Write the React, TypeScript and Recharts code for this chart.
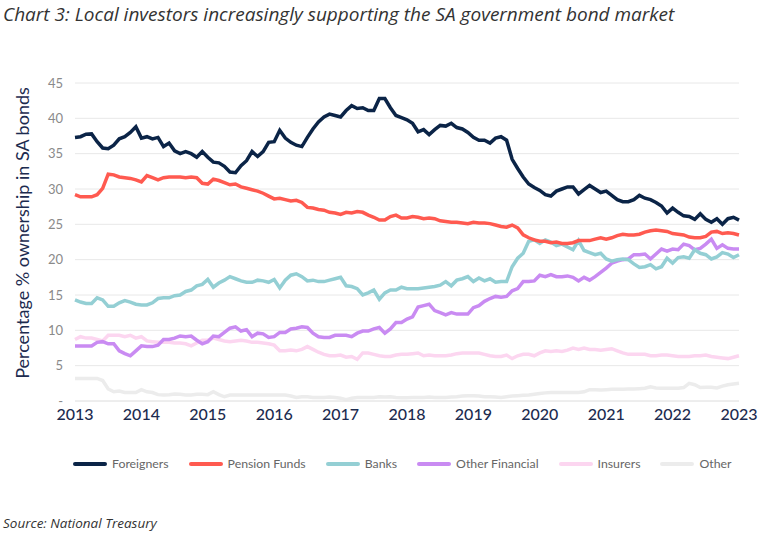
import { LineChart, Line, XAxis, YAxis, CartesianGrid } from "recharts";

// monthly observations, Jan 2013 .. Jan 2023 (121 points)
const startYear = 2013;
const yearTicks = [2013, 2014, 2015, 2016, 2017, 2018, 2019, 2020, 2021, 2022, 2023];
const pctTicks = [0, 5, 10, 15, 20, 25, 30, 35, 40, 45];

const foreigners = [
  37.3, 37.4, 37.75, 37.8, 36.7, 35.8, 35.7, 36.2, 37.1, 37.4,
  38.0, 38.8, 37.2, 37.4, 37.1, 37.3, 36.0, 36.5, 35.4, 35.0,
  35.3, 35.0, 34.5, 35.3, 34.5, 33.8, 33.7, 33.2, 32.4, 32.3,
  33.3, 34.0, 35.3, 34.6, 35.3, 36.6, 36.7, 38.3, 37.2, 36.6,
  36.2, 36.0, 37.3, 38.5, 39.5, 40.2, 40.6, 40.4, 40.2, 41.1,
  41.8, 41.4, 41.5, 41.1, 41.1, 42.8, 42.8, 41.5, 40.4, 40.1,
  39.8, 39.3, 38.1, 38.4, 37.7, 38.4, 39.0, 38.9, 39.3, 38.7,
  38.5, 38.0, 37.3, 36.9, 36.9, 36.5, 37.2, 37.4, 36.9, 34.2,
  32.9, 31.7, 30.7, 30.2, 29.8, 29.2, 29.0, 29.7, 30.0, 30.3,
  30.3, 29.3, 29.9, 30.5, 30.0, 29.5, 29.7, 29.1, 28.5, 28.2,
  28.2, 28.5, 29.1, 28.7, 28.5, 28.1, 27.6, 26.6, 27.3, 26.7,
  26.2, 26.1, 25.7, 26.5, 25.7, 25.3, 25.8, 25.0, 25.8, 26.0,
  25.6,
];

const pensionFunds = [
  29.2, 28.9, 28.9, 28.9, 29.2, 30.1, 32.1, 32.0, 31.7, 31.6,
  31.5, 31.3, 31.0, 31.9, 31.6, 31.3, 31.6, 31.7, 31.7, 31.7,
  31.6, 31.7, 31.6, 30.8, 30.7, 31.4, 31.2, 30.9, 30.6, 30.7,
  30.3, 30.1, 29.9, 29.7, 29.4, 29.0, 28.6, 28.7, 28.5, 28.3,
  28.4, 28.1, 27.4, 27.3, 27.1, 27.0, 26.7, 26.6, 26.4, 26.7,
  26.6, 26.8, 26.7, 26.3, 26.0, 25.6, 25.6, 26.1, 26.3, 25.9,
  25.9, 26.1, 26.0, 25.8, 25.9, 25.8, 25.5, 25.4, 25.3, 25.3,
  25.2, 25.1, 25.3, 25.2, 25.2, 25.1, 24.9, 24.7, 24.6, 24.9,
  24.5, 23.5, 23.1, 22.8, 22.6, 22.6, 22.4, 22.5, 22.3, 22.3,
  22.4, 22.7, 22.7, 22.7, 22.9, 23.1, 22.9, 23.1, 23.4, 23.6,
  23.5, 23.5, 23.6, 23.9, 24.1, 24.2, 24.1, 24.0, 23.7, 23.6,
  23.5, 23.2, 23.1, 23.1, 23.3, 23.9, 24.0, 23.7, 23.8, 23.7,
  23.5,
];

const banks = [
  14.3, 14.0, 13.8, 13.8, 14.6, 14.3, 13.4, 13.4, 13.9, 14.2,
  14.0, 13.7, 13.6, 13.6, 13.9, 14.5, 14.6, 14.6, 14.9, 15.0,
  15.5, 15.7, 16.3, 16.5, 17.2, 16.1, 16.7, 17.1, 17.6, 17.3,
  17.0, 16.8, 16.8, 17.1, 17.0, 16.8, 17.2, 16.0, 17.1, 17.8,
  18.0, 17.6, 17.0, 17.1, 16.9, 16.9, 17.1, 17.3, 17.5, 16.3,
  16.2, 15.9, 15.0, 15.3, 15.7, 14.4, 15.3, 15.7, 15.7, 16.1,
  15.9, 15.9, 15.9, 16.0, 16.1, 16.2, 16.4, 16.9, 16.3, 17.1,
  17.3, 17.6, 16.9, 17.4, 17.0, 17.3, 16.8, 16.9, 16.9, 19.0,
  20.2, 20.9, 22.6, 22.8, 22.3, 22.8, 22.5, 22.0, 22.2, 21.8,
  21.4, 22.7, 21.3, 21.0, 20.7, 20.9, 20.1, 19.8, 20.0, 20.1,
  20.0, 19.4, 18.9, 19.0, 19.3, 18.7, 19.0, 20.2, 19.5, 20.3,
  20.4, 20.2, 21.4, 20.9, 20.7, 20.1, 20.4, 21.0, 20.8, 20.3,
  20.7,
];

const otherFinancial = [
  7.8, 7.8, 7.8, 7.8, 8.3, 8.4, 8.1, 8.1, 7.1, 6.7,
  6.4, 7.1, 7.8, 7.7, 7.7, 7.9, 8.7, 8.7, 8.9, 9.2,
  9.1, 9.2, 8.6, 8.1, 8.4, 9.2, 9.1, 9.7, 10.3, 10.5,
  9.9, 10.1, 9.1, 9.6, 9.5, 9.0, 9.1, 9.7, 9.7, 10.2,
  10.3, 10.5, 10.4, 9.6, 9.1, 9.0, 9.0, 9.3, 9.3, 9.3,
  9.1, 9.6, 9.9, 9.9, 10.2, 10.4, 9.6, 10.2, 11.1, 11.1,
  11.6, 11.9, 13.3, 13.5, 13.7, 12.8, 12.5, 12.2, 12.5, 12.3,
  12.3, 12.3, 13.2, 13.5, 14.1, 14.5, 14.8, 14.7, 14.8, 15.6,
  15.9, 16.9, 16.9, 17.0, 17.8, 17.6, 17.9, 17.6, 17.6, 17.7,
  17.5, 17.0, 17.5, 17.1, 17.6, 18.2, 18.8, 19.5, 19.8, 20.0,
  20.1, 20.7, 20.7, 20.8, 20.1, 20.8, 21.5, 21.2, 21.5, 21.4,
  22.2, 22.0, 21.4, 21.6, 22.2, 22.9, 21.6, 22.1, 21.6, 21.5,
  21.5,
];

const insurers = [
  8.7, 9.1, 8.9, 8.9, 8.7, 8.5, 9.3, 9.3, 9.3, 9.1,
  9.3, 8.9, 9.1, 8.5, 8.4, 8.3, 8.3, 8.3, 8.2, 8.2,
  8.1, 7.8, 8.2, 8.6, 8.6, 8.9, 8.7, 8.5, 8.4, 8.5,
  8.6, 8.5, 8.3, 8.3, 8.2, 8.1, 7.9, 7.1, 7.1, 7.2,
  7.1, 7.3, 7.7, 7.3, 6.9, 6.6, 6.4, 6.4, 6.5, 6.2,
  6.3, 5.9, 6.8, 6.8, 6.6, 6.4, 6.3, 6.3, 6.5, 6.6,
  6.6, 6.7, 6.8, 6.4, 6.5, 6.4, 6.4, 6.4, 6.5, 6.7,
  6.8, 6.8, 6.8, 6.8, 6.6, 6.4, 6.3, 6.3, 6.5, 6.0,
  6.4, 6.6, 6.6, 6.4, 6.8, 7.1, 7.0, 7.1, 7.0, 7.2,
  7.5, 7.3, 7.5, 7.3, 7.3, 7.2, 7.3, 7.4, 7.1, 6.8,
  6.6, 6.6, 6.6, 6.6, 6.4, 6.4, 6.5, 6.5, 6.4, 6.3,
  6.3, 6.3, 6.4, 6.4, 6.5, 6.3, 6.2, 6.1, 6.0, 6.2,
  6.4,
];

const other = [
  3.2, 3.2, 3.2, 3.2, 3.2, 2.9, 1.7, 1.3, 1.4, 1.2,
  1.2, 1.2, 1.6, 1.3, 1.2, 0.9, 0.85, 0.9, 1.0, 0.95,
  0.85, 0.85, 0.95, 0.95, 0.9, 1.3, 0.9, 0.6, 0.85, 0.85,
  0.85, 0.85, 0.85, 0.85, 0.85, 0.85, 0.85, 0.85, 0.85, 0.7,
  0.5, 0.6, 0.6, 0.5, 0.5, 0.5, 0.55, 0.5, 0.4, 0.2,
  0.4, 0.5, 0.5, 0.5, 0.5, 0.6, 0.55, 0.6, 0.5, 0.45,
  0.45, 0.5, 0.5, 0.5, 0.55, 0.5, 0.5, 0.5, 0.55, 0.6,
  0.7, 0.75, 0.75, 0.7, 0.6, 0.6, 0.55, 0.5, 0.6, 0.7,
  0.75, 0.8, 0.85, 0.95, 1.05, 1.15, 1.2, 1.2, 1.2, 1.2,
  1.2, 1.2, 1.3, 1.6, 1.6, 1.55, 1.6, 1.65, 1.65, 1.65,
  1.7, 1.7, 1.75, 1.8, 2.0, 1.85, 1.8, 1.8, 1.8, 1.8,
  1.9, 2.5, 2.3, 1.9, 1.95, 1.95, 1.85, 2.1, 2.3, 2.4,
  2.5,
];

const series = [
  { key: "foreigners", name: "Foreigners", color: "#0b2447", values: foreigners },
  { key: "pension", name: "Pension Funds", color: "#ff5a50", values: pensionFunds },
  { key: "banks", name: "Banks", color: "#94cfd4", values: banks },
  { key: "otherFin", name: "Other Financial", color: "#c98bf2", values: otherFinancial },
  { key: "insurers", name: "Insurers", color: "#fcd6f0", values: insurers },
  { key: "other", name: "Other", color: "#ececec", values: other },
];

const data = foreigners.map((_, i) => {
  const row: Record<string, number> = { t: startYear + i / 12 };
  series.forEach((s) => {
    row[s.key] = s.values[i];
  });
  return row;
});

const font = "Lato, 'Open Sans', sans-serif";
const italicFont = "'Open Sans', Lato, sans-serif";

const ChartLegend = () => (
  <div
    style={{
      position: "absolute",
      top: 456,
      left: 73,
      display: "flex",
      alignItems: "center",
      gap: 20,
      fontFamily: font,
      fontSize: 12.3,
      color: "#666",
    }}
  >
    {series.map((s) => (
      <div key={s.key} style={{ display: "flex", alignItems: "center" }}>
        <span
          style={{
            display: "inline-block",
            width: 34,
            height: 4,
            borderRadius: 2,
            background: s.color,
            marginRight: 5,
          }}
        />
        {s.name}
      </div>
    ))}
  </div>
);

const YLabel = () => (
  <text
    x={22}
    y={233}
    transform="rotate(-90, 22, 233)"
    textAnchor="middle"
    dominantBaseline="central"
    fill="#1c2b4f"
    fontSize={18}
    fontFamily={font}
  >
    Percentage % ownership in SA bonds
  </text>
);

export default function App() {
  return (
    <div
      style={{
        position: "absolute",
        left: 0,
        top: 0,
        width: 766,
        height: 542,
        background: "#fff",
        fontFamily: font,
      }}
    >
      {/* title */}
      <div
        style={{
          position: "absolute",
          left: 3,
          top: 1,
          fontFamily: italicFont,
          fontSize: 19,
          fontStyle: "italic",
          color: "#333",
          whiteSpace: "nowrap",
        }}
      >
        Chart 3: Local investors increasingly supporting the SA government bond market
      </div>

      <LineChart
        width={766}
        height={542}
        data={data}
        margin={{ top: 83, right: 27, bottom: 111, left: 0 }}
      >
        <CartesianGrid vertical={false} stroke="#e8e8e8" />
        <XAxis
          type="number"
          dataKey="t"
          domain={[2013, 2023]}
          ticks={yearTicks}
          height={30}
          axisLine={{ stroke: "#e8e8e8" }}
          tickLine={false}
          tick={{ fill: "#1c2b4f", fontSize: 16, fontWeight: 500 }}
        />
        <YAxis
          domain={[0, 45]}
          ticks={pctTicks}
          width={75}
          axisLine={false}
          tickLine={false}
          tickMargin={6}
          tickFormatter={(v: number) => (v === 0 ? "-" : String(v))}
          tick={{ fill: "#8a8a8a", fontSize: 13 }}
          label={<YLabel />}
        />
        {[...series].reverse().map((s) => (
          <Line
            key={s.key}
            type="linear"
            dataKey={s.key}
            name={s.name}
            stroke={s.color}
            strokeWidth={3.5}
            dot={false}
            activeDot={false}
            isAnimationActive={false}
          />
        ))}
      </LineChart>

      <ChartLegend />

      {/* source */}
      <div
        style={{
          position: "absolute",
          left: 3,
          top: 514,
          fontFamily: italicFont,
          fontSize: 13.5,
          fontStyle: "italic",
          color: "#333",
        }}
      >
        Source: National Treasury
      </div>
    </div>
  );
}
